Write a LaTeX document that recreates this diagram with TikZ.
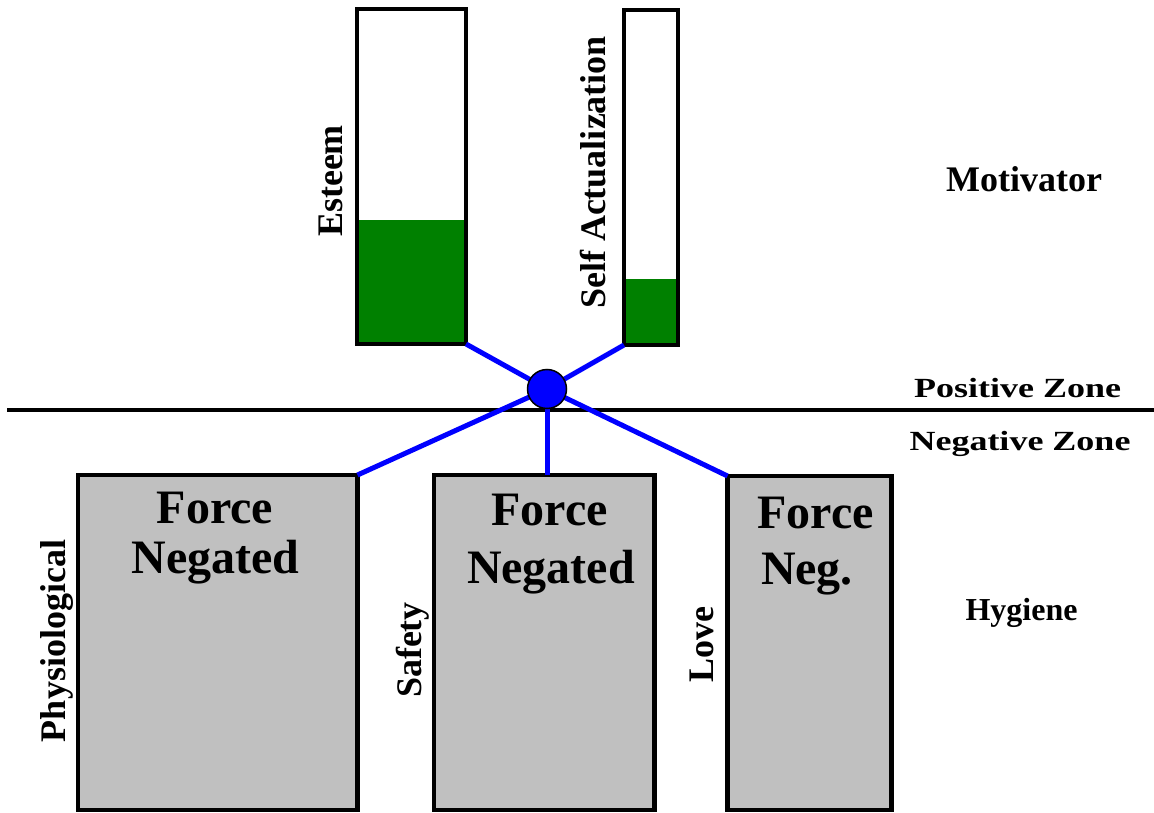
\documentclass[tikz,border=0pt]{standalone}
\usepackage{fontspec}
\setmainfont{Liberation Serif}
\definecolor{bargreen}{RGB}{0,128,0}
\definecolor{boxgray}{RGB}{192,192,192}
\definecolor{linkblue}{RGB}{0,0,255}
\begin{document}
\begin{tikzpicture}[x=1pt,y=-1pt,
  bar/.style={draw=black,line width=4.5pt,inner sep=0pt,outer sep=0pt},
  gbox/.style={draw=black,fill=boxgray,line width=4.5pt,inner sep=0pt,outer sep=0pt},
  lbl/.style={font=\fontsize{36}{40}\selectfont\bfseries,inner sep=0pt,anchor=base},
  vlbl/.style={lbl,rotate=90},
  zlbl/.style={lbl,yscale=0.77},
  big/.style={font=\fontsize{48}{52}\selectfont\bfseries,inner sep=0pt,anchor=base},
  link/.style={draw=linkblue,line width=5pt},
  hubstyle/.style={circle,fill=linkblue,draw=black,line width=1.5pt,minimum size=39pt,inner sep=0pt}]
\useasboundingbox (0,0) rectangle (1154,813);
% zone line
\coordinate (zl) at (7,410);
\coordinate (zr) at (1154,410);
\draw[line width=4.5pt] (zl) -- (zr);
% bars
\fill[bargreen] (357,220) rectangle (466,344);
\node[bar,minimum width=109pt,minimum height=335pt] (esteem) at (411.5,176.5) {};
\fill[bargreen] (624,279) rectangle (678,345);
\node[bar,minimum width=54pt,minimum height=335pt] (selfact) at (651,177.5) {};
% gray boxes
\node[gbox,minimum width=279.5pt,minimum height=335pt] (phys) at (217.75,475+167.5) {};
\node[gbox,minimum width=220.5pt,minimum height=335pt] (safety) at (544.45,475+167.5) {};
\node[gbox,minimum width=164pt,minimum height=334pt] (love) at (809.5,476+167) {};
% links
\coordinate (hubc) at (547,389);
\draw[link] (hubc) -- (esteem.south east);
\draw[link] (hubc) -- (selfact.south west);
\draw[link] (hubc) -- (phys.north east);
\draw[link] (hubc) -- (hubc |- safety.north);
\draw[link] (hubc) -- (love.north west);
\node[hubstyle] (hub) at (hubc) {};
% vertical labels
\node[vlbl] (lesteem) at (342,181) {Esteem};
\node[vlbl] (lself) at (605,172.5) {Self Actualization};
\node[vlbl] (lphys) at (65,641) {Physiological};
\node[vlbl] (lsafety) at (421,650) {Safety};
\node[vlbl] (llove) at (713,645) {Love};
% box texts
\node[big] (pf) at (215,523) {Force};
\node[big] (pn) at (215.5,573) {Negated};
\node[big] (sf) at (549.5,525) {Force};
\node[big] (sn) at (551,583) {Negated};
\node[big] (lf) at (815.5,528) {Force};
\node[big] (ln) at (807,584) {Neg.};
% right labels
\node[lbl] (mot) at (1024,192) {Motivator};
\node[zlbl] (pos) at (1017.5,397) {Positive Zone};
\node[zlbl] (neg) at (1020,450) {Negative Zone};
\node[lbl,font=\fontsize{32}{36}\selectfont\bfseries] (hyg) at (1021.5,620) {Hygiene};
\end{tikzpicture}
\end{document}
